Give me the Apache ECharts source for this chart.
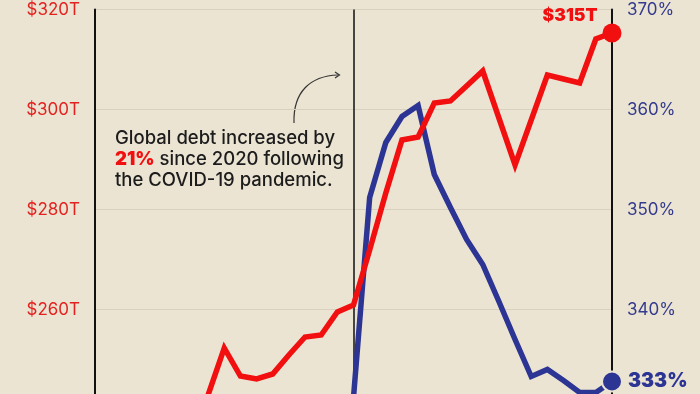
<!DOCTYPE html>
<html>
<head>
<meta charset="utf-8">
<script src="https://cdn.jsdelivr.net/npm/echarts@6/dist/echarts.min.js"></script>
<style>
html,body{margin:0;padding:0;background:#ebe4d3;}
#c{width:700px;height:394px;}
</style>
</head>
<body>
<div id="c"></div>
<script>
// Quarters from Q1 2016 to Q1 2024
var categories = [];
for (var yr = 2016; yr <= 2024; yr++) {
  for (var q = 1; q <= 4; q++) {
    if (yr === 2024 && q > 1) break;
    categories.push('Q' + q + ' ' + yr);
  }
}
// Global debt, trillions USD (left axis)
var globalDebt = [null, null, null, null, null, null, null,
  242.9, 252.3, 246.7, 246.1, 247.1, 250.9, 254.5, 254.9, 259.5,
  260.9, 271.9, 283.3, 293.9, 294.5, 301.3, 301.7, 304.7,
  307.7, 298.3, 288.9, 297.9, 306.9, 306.1, 305.3, 314.1, 315.3];
// Global debt-to-GDP, % (right axis)
var debtToGdp = [null, null, null, null, null, null, null, null,
  null, null, null, null, null, null, null, 326.0,
  331.2, 351.2, 356.7, 359.3, 360.4, 353.5, 350.2, 347.0,
  344.5, 340.8, 337.0, 333.3, 334.0, 332.9, 331.7, 331.7, 332.8];
var leftTicks = [240, 260, 280, 300, 320];
var rightTicks = [330, 340, 350, 360, 370];
var covidIndex = categories.indexOf('Q1 2020');

var RED = '#f20f0f', BLUE = '#2c3494', BG = '#ebe4d3';
var FONT = 'Inter';
var last = categories.length - 1;

var chart = echarts.init(document.getElementById('c'));
chart.setOption({
  backgroundColor: BG,
  animation: false,
  grid: {left: 95, top: 9.5, width: 517, height: 400, containLabel: false, outerBoundsMode: 'none'},
  xAxis: {
    type: 'category', data: categories, boundaryGap: false,
    axisLine: {show: false}, axisTick: {show: false}, axisLabel: {show: false},
    splitLine: {show: false}
  },
  yAxis: [{
    type: 'value', min: leftTicks[0], max: leftTicks[leftTicks.length - 1], interval: 20,
    axisLine: {show: true, lineStyle: {color: '#111', width: 2}},
    axisTick: {show: false},
    axisLabel: {color: '#e3221f', fontFamily: FONT, fontSize: 17, margin: 15,
      formatter: function (v) { return '$' + v + 'T'; }},
    splitLine: {show: true, lineStyle: {color: '#d9d1bf', width: 1}}
  }, {
    type: 'value', min: rightTicks[0], max: rightTicks[rightTicks.length - 1], interval: 10,
    position: 'right',
    axisLine: {show: true, lineStyle: {color: '#111', width: 2}},
    axisTick: {show: false},
    axisLabel: {color: '#343a8c', fontFamily: FONT, fontSize: 17, margin: 15,
      formatter: function (v) { return v + '%'; }},
    splitLine: {show: false}
  }],
  series: [{
    name: 'Debt-to-GDP', type: 'line', yAxisIndex: 1, data: debtToGdp,
    connectNulls: false, showSymbol: false, symbol: 'none', z: 2,
    lineStyle: {color: BLUE, width: 5.5, join: 'miter'},
    markPoint: {
      symbol: 'circle', symbolSize: 20,
      itemStyle: {color: BLUE, borderColor: BG, borderWidth: 2},
      data: [{coord: [last, debtToGdp[last]], value: debtToGdp[last]}],
      label: {show: true, position: 'right', distance: 5, color: BLUE,
        fontFamily: FONT, fontWeight: 900, fontSize: 19.5,
        formatter: function (p) { return Math.round(p.value) + '%'; }}
    }
  }, {
    name: 'Global debt', type: 'line', yAxisIndex: 0, data: globalDebt,
    showSymbol: false, symbol: 'none', z: 3,
    lineStyle: {color: RED, width: 5.5, join: 'miter'},
    markLine: {
      silent: true, symbol: 'none', z: 1,
      lineStyle: {color: '#111', width: 1.5, type: 'solid'},
      label: {show: false},
      data: [{xAxis: covidIndex}]
    },
    markPoint: {
      symbol: 'circle', symbolSize: 19,
      itemStyle: {color: RED},
      data: [{coord: [last, globalDebt[last]], value: globalDebt[last]}],
      label: {show: true, position: 'left', distance: 5, offset: [0, -17], color: RED,
        fontFamily: FONT, fontWeight: 900, fontSize: 17.5,
        formatter: function (p) { return '$' + Math.round(p.value) + 'T'; }}
    }
  }],
  graphic: [{
    type: 'text', left: 115, top: 129,
    style: {
      text: '{a|Global debt increased by}\n{b|21%}{a| since 2020 following}\n{a|the COVID-19 pandemic.}',
      rich: {
        a: {fontFamily: FONT, fontSize: 18.5, fontWeight: 500, lineHeight: 21, fill: '#1c1c1c'},
        b: {fontFamily: FONT, fontSize: 18.5, fontWeight: 900, lineHeight: 21, fill: RED}
      }
    }
  }, {
    type: 'bezierCurve',
    shape: {x1: 294, y1: 123, x2: 338, y2: 75, cpx1: 293, cpy1: 92, cpx2: 310, cpy2: 76},
    style: {stroke: '#333', lineWidth: 1.2, fill: null}
  }, {
    type: 'polyline',
    shape: {points: [[335, 72], [339.5, 75], [335, 78]]},
    style: {stroke: '#333', lineWidth: 1.2, fill: null}
  }]
});
</script>
</body>
</html>
